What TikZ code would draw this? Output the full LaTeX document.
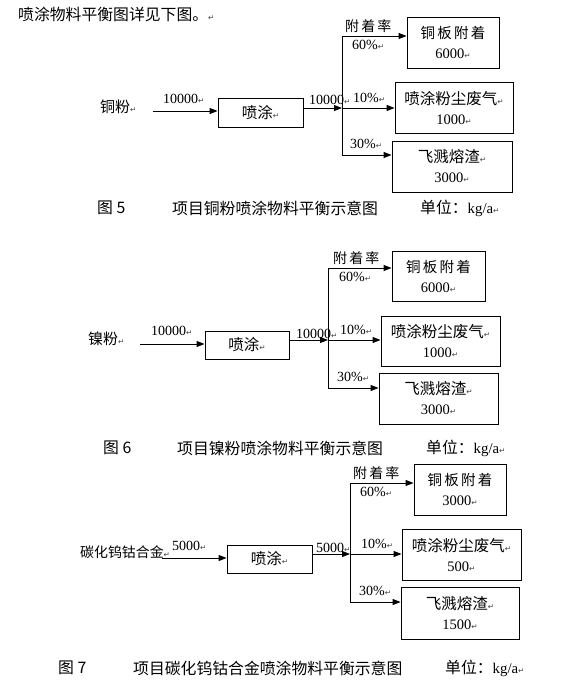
\documentclass[tikz,border=0pt]{standalone}
\usepackage{fontspec}
\usepackage{xcolor}
\usepackage{tikz}
\usetikzlibrary{arrows.meta,calc}
\setmainfont{Liberation Serif}
\newfontfamily\cjk{Noto Sans CJK SC}[Scale=1.07]
\newfontfamily\cjksp{Noto Sans CJK SC}[LetterSpace=15]
\newfontfamily\arrfont{DejaVu Sans}
\newcommand\rmk{{\arrfont\fontsize{7.5}{7.5}\selectfont\textcolor{black!75}{↵}}}

\begin{document}
\begin{tikzpicture}[x=1pt,y=-1pt,
  box/.style={draw,line width=0.9pt,align=center,inner sep=0pt,
              minimum height=51,font=\fontsize{14.5}{20}\selectfont},
  lbl/.style={inner sep=0pt,anchor=west,font=\fontsize{14}{17}\selectfont},
  captxt/.style={inner sep=0pt,anchor=west,font=\cjk\fontsize{14.8}{18}\selectfont},
  arr/.style={-{Triangle[length=8pt,width=6pt]},line width=0.9pt},
  ln/.style={line width=0.9pt}]
  \useasboundingbox (0,0) rectangle (577,686);
  \node[captxt](head) at (18,14) {喷涂物料平衡图详见下图。\rmk};
  % figure 5
  \node[lbl](src5) at (100,107) {{\cjk 铜粉}\rmk};
  \coordinate (in5) at (153,111);
  \node[box,minimum width=85,minimum height=29](spray5) at (260.5,112.5) {{\cjk 喷涂}\rmk};
  \coordinate (j5) at (342,108);
  \coordinate (t5) at (342,36);
  \coordinate (b5) at (342,155);
  \node[box,minimum width=92](adh5) at (453,42.5) {{\cjksp 铜板附着}\\6000\rmk};
  \node[box,minimum width=118](dust5) at (454,107.5) {{\cjk 喷涂粉尘废气}\rmk\\1000\rmk};
  \node[box,minimum width=120](slag5) at (452,166.5) {{\cjk 飞溅熔渣}\rmk\\3000\rmk};
  \draw[arr](in5)--(in5 -| spray5.west);
  \draw[arr](j5 -| spray5.east)--(j5);
  \draw[ln](t5)--(b5);
  \draw[arr](t5)--(t5 -| adh5.west);
  \draw[arr](j5)--(j5 -| dust5.west);
  \draw[arr](b5)--(b5 -| slag5.west);
  \node[lbl](qin5) at (163,99) {10000\rmk};
  \node[lbl](qout5) at (309,100) {10000\rmk};
  \node[lbl](rate5) at (345,26) {{\cjksp 附着率}};
  \node[lbl](sixty5) at (352,45) {60\%\rmk};
  \node[lbl](ten5) at (353,98) {10\%\rmk};
  \node[lbl](thirty5) at (350,144) {30\%\rmk};
  \node[captxt](fig5) at (97,208) {图 5};
  \node[captxt](title5) at (172,208) {项目铜粉喷涂物料平衡示意图};
  \node[captxt](unit5) at (420,208) {单位：{\rmfamily kg/a}\rmk};
  % figure 6
  \node[lbl](src6) at (88,339) {{\cjk 镍粉}\rmk};
  \coordinate (in6) at (140,344);
  \node[box,minimum width=84,minimum height=28](spray6) at (247,345) {{\cjk 喷涂}\rmk};
  \coordinate (j6) at (328,340);
  \coordinate (t6) at (328,268);
  \coordinate (b6) at (328,388);
  \node[box,minimum width=93,minimum height=50](adh6) at (438.5,276) {{\cjksp 铜板附着}\\6000\rmk};
  \node[box,minimum width=119,minimum height=50](dust6) at (440.5,341) {{\cjk 喷涂粉尘废气}\rmk\\1000\rmk};
  \node[box,minimum width=119](slag6) at (438.5,398.5) {{\cjk 飞溅熔渣}\rmk\\3000\rmk};
  \draw[arr](in6)--(in6 -| spray6.west);
  \draw[arr](j6 -| spray6.east)--(j6);
  \draw[ln](t6)--(b6);
  \draw[arr](t6)--(t6 -| adh6.west);
  \draw[arr](j6)--(j6 -| dust6.west);
  \draw[arr](b6)--(b6 -| slag6.west);
  \node[lbl](qin6) at (151,331) {10000\rmk};
  \node[lbl](qout6) at (296,334) {10000\rmk};
  \node[lbl](rate6) at (333,258) {{\cjksp 附着率}};
  \node[lbl](sixty6) at (339,277) {60\%\rmk};
  \node[lbl](ten6) at (340,330) {10\%\rmk};
  \node[lbl](thirty6) at (337,377) {30\%\rmk};
  \node[captxt](fig6) at (103,448) {图 6};
  \node[captxt](title6) at (177,448) {项目镍粉喷涂物料平衡示意图};
  \node[captxt](unit6) at (426,448) {单位：{\rmfamily kg/a}\rmk};
  % figure 7
  \node[lbl,font=\fontsize{13}{16}\selectfont](src7) at (80,552) {{\cjk 碳化钨钴合金}\rmk};
  \coordinate (in7) at (162,558);
  \node[box,minimum width=85,minimum height=28](spray7) at (269.5,559) {{\cjk 喷涂}\rmk};
  \coordinate (j7) at (350,554);
  \coordinate (t7) at (350,483);
  \coordinate (b7) at (350,602);
  \node[box,minimum width=92](adh7) at (460,489.5) {{\cjksp 铜板附着}\\3000\rmk};
  \node[box,minimum width=119](dust7) at (461.5,554.5) {{\cjk 喷涂粉尘废气}\rmk\\500\rmk};
  \node[box,minimum width=118,minimum height=52](slag7) at (460,613) {{\cjk 飞溅熔渣}\rmk\\1500\rmk};
  \draw[arr](in7)--(in7 -| spray7.west);
  \draw[arr](j7 -| spray7.east)--(j7);
  \draw[ln](t7)--(b7);
  \draw[arr](t7)--(t7 -| adh7.west);
  \draw[arr](j7)--(j7 -| dust7.west);
  \draw[arr](b7)--(b7 -| slag7.west);
  \node[lbl](qin7) at (172,546) {5000\rmk};
  \node[lbl](qout7) at (316,548) {5000\rmk};
  \node[lbl](rate7) at (353,473) {{\cjksp 附着率}};
  \node[lbl](sixty7) at (360,492) {60\%\rmk};
  \node[lbl](ten7) at (361,544) {10\%\rmk};
  \node[lbl](thirty7) at (359,591) {30\%\rmk};
  \node[captxt](fig7) at (58,668) {图 7};
  \node[captxt](title7) at (133,668) {项目碳化钨钴合金喷涂物料平衡示意图};
  \node[captxt](unit7) at (445,668) {单位：{\rmfamily kg/a}\rmk};
\end{tikzpicture}
\end{document}
